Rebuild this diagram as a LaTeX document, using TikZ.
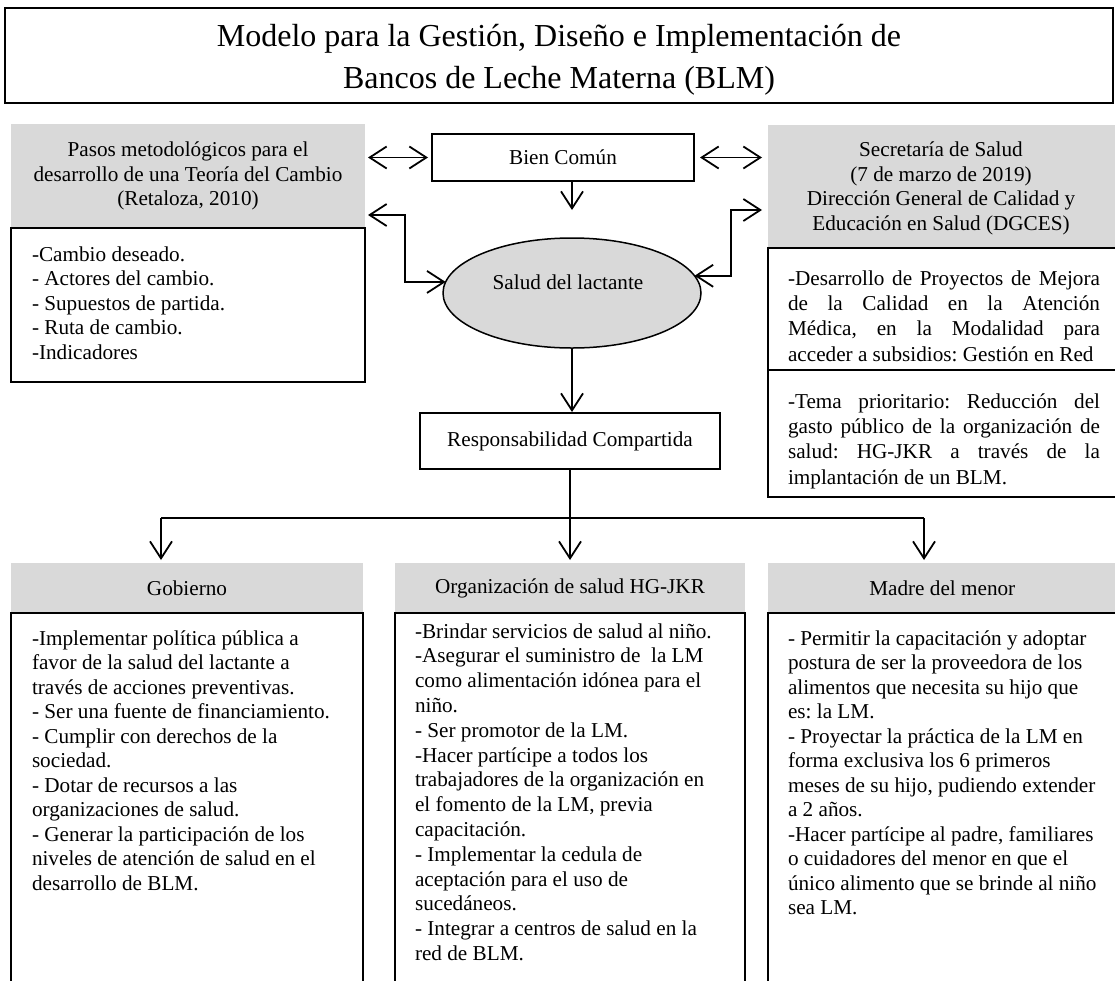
\documentclass[tikz,border=0pt]{standalone}
\usepackage{fontspec}
\setmainfont{Liberation Serif}
\usetikzlibrary{arrows.meta,shapes.geometric}
\definecolor{boxgray}{RGB}{217,217,217}
\newcommand\bodyfont{\fontsize{21.2pt}{24.5pt}\selectfont}
\newcommand\wideline{\fontsize{21.2pt}{25.3pt}\selectfont}
\newcommand\orgfont{\fontsize{21.2pt}{24.8pt}\selectfont}
\newcommand\titlefont{\fontsize{32pt}{41.7pt}\selectfont}
\tikzset{barb/.tip={Straight Barb[length=17pt,width=22pt]}}
\frenchspacing
\begin{document}
\begin{tikzpicture}[x=1pt,y=-1pt,
  every node/.style={inner sep=0pt,outer sep=0pt,font=\bodyfont},
  box/.style={draw,line width=1.5pt},
  gbox/.style={fill=boxgray},
  arr/.style={line width=1.8pt,-barb},
  darr/.style={line width=1.8pt,barb-barb},
  plain/.style={line width=1.8pt}]
\useasboundingbox (0,0) rectangle (1115,980);
\fill[white] (0,0) rectangle (1115,980);

% title
\node[box, minimum width=1108pt, minimum height=95pt] (title) at (559,55.5) {};
\node[font=\titlefont, align=center] (titlet) at (559,59.5)
  {Modelo para la Gestión, Diseño e Implementación de\\Bancos de Leche Materna (BLM)};

% left column top
\node[gbox, minimum width=354pt, minimum height=104pt, align=center] (pasos) at (188,176)
  {Pasos metodológicos para el\\desarrollo de una Teoría del Cambio\\(Retaloza, 2010)};
\node[box, minimum width=354pt, minimum height=154pt] (pasosl) at (188,305) {};
\node[align=left, anchor=west] (pasost) at (32,303)
  {-Cambio deseado.\\- Actores del cambio.\\- Supuestos de partida.\\- Ruta de cambio.\\-Indicadores};

% centre
\node[box, minimum width=262pt, minimum height=47pt] (bien) at (563,157.5) {Bien Común};
\node[ellipse, draw, line width=1.5pt, fill=boxgray, minimum width=258pt, minimum height=110pt] (salud) at (572,293) {};
\node (saludt) at (568,282) {Salud del lactante};
\node[box, minimum width=300pt, minimum height=56pt] (resp) at (570,441) {Responsabilidad Compartida};

% right column top
\node[gbox, minimum width=348.5pt, minimum height=123pt] (secre) at (942.25,186.5) {};
\node[align=center] (secret) at (941,188.5)
  {Secretaría de Salud\\(7 de marzo de 2019)\\Dirección General de Calidad y\\Educación en Salud (DGCES)};
\node[box, minimum width=348.5pt, minimum height=122pt] (secre1) at (942.25,309) {};
\node[box, minimum width=348.5pt, minimum height=127pt] (secre2) at (942.25,433.5) {};
\node[align=left, anchor=west, font=\wideline] (secre1t) at (788,316)
  {\makebox[312pt][s]{-Desarrollo de Proyectos de Mejora}\\
   \makebox[312pt][s]{de la Calidad en la Atención}\\
   \makebox[312pt][s]{Médica, en la Modalidad para}\\
   acceder a subsidios: Gestión en Red};
\node[align=left, anchor=west, font=\wideline] (secre2t) at (788,441)
  {\makebox[312pt][s]{-Tema prioritario: Reducción del}\\
   \makebox[312pt][s]{gasto público de la organización de}\\
   \makebox[312pt][s]{salud: HG-JKR a través de la}\\
   implantación de un BLM.};

% bottom row
\node[gbox, minimum width=352pt, minimum height=50pt] (gob) at (187,588) {Gobierno};
\node[gbox, minimum width=350pt, minimum height=50pt] (org) at (570,588) {Organización de salud HG-JKR};
\node[gbox, minimum width=348.5pt, minimum height=50pt] (mad) at (942.25,588) {Madre del menor};
\node[box, minimum width=352pt, minimum height=380pt, anchor=north] (gobl) at (187,613) {};
\node[box, minimum width=350pt, minimum height=380pt, anchor=north] (orgl) at (570,613) {};
\node[box, minimum width=348.5pt, minimum height=380pt, anchor=north] (madl) at (942.25,613) {};

\node[align=left, anchor=west] (gobt) at (32,760.5)
  {-Implementar política pública a\\
   favor de la salud del lactante a\\
   través de acciones preventivas.\\
   - Ser una fuente de financiamiento.\\
   - Cumplir con derechos de la\\
   sociedad.\\
   - Dotar de recursos a las\\
   organizaciones de salud.\\
   - Generar la participación de los\\
   niveles de atención de salud en el\\
   desarrollo de BLM.};
\node[align=left, anchor=west, font=\orgfont] (orgt) at (415,792)
  {-Brindar servicios de salud al niño.\\
   -Asegurar el suministro de\ \ la LM\\
   como alimentación idónea para el\\
   niño.\\
   - Ser promotor de la LM.\\
   -Hacer partícipe a todos los\\
   trabajadores de la organización en\\
   el fomento de la LM, previa\\
   capacitación.\\
   - Implementar la cedula de\\
   aceptación para el uso de\\
   sucedáneos.\\
   - Integrar a centros de salud en la\\
   red de BLM.};
\node[align=left, anchor=west] (madt) at (788,772.7)
  {- Permitir la capacitación y adoptar\\
   postura de ser la proveedora de los\\
   alimentos que necesita su hijo que\\
   es: la LM.\\
   - Proyectar la práctica de la LM en\\
   forma exclusiva los 6 primeros\\
   meses de su hijo, pudiendo extender\\
   a 2 años.\\
   -Hacer partícipe al padre, familiares\\
   o cuidadores del menor en que el\\
   único alimento que se brinde al niño\\
   sea LM.};

% connectors
\coordinate (lk) at (405,215);
\coordinate (rk) at (731,210);
\coordinate (bienend) at (572,210);
\coordinate (split) at (570,518);
\coordinate (sl) at (161,518);
\coordinate (sr) at (924,518);

\draw[darr] ([xshift=3pt]pasos.east |- bien.west) -- ([xshift=-4pt]bien.west);
\draw[darr] ([xshift=6pt]bien.east) -- ([xshift=-6pt]secre.west |- bien.east);
\draw[arr] (bien.south -| bienend) -- (bienend);
\draw[darr] ([xshift=3pt]pasos.east |- lk) -- (lk) |- (salud.175);
\draw[darr] ([xshift=-6pt]secre.west |- rk) -- (rk) |- (salud.8);
\draw[arr] (salud.south) -- ([yshift=1pt]salud.south |- resp.north);
\draw[plain] (resp.south) -- (split);
\draw[plain] (sl) -- (sr);
\draw[arr] (split) -- ([yshift=3pt]split |- org.north);
\draw[arr] (sl) -- ([yshift=3pt]sl |- gob.north);
\draw[arr] (sr) -- ([yshift=3pt]sr |- mad.north);
\end{tikzpicture}
\end{document}
